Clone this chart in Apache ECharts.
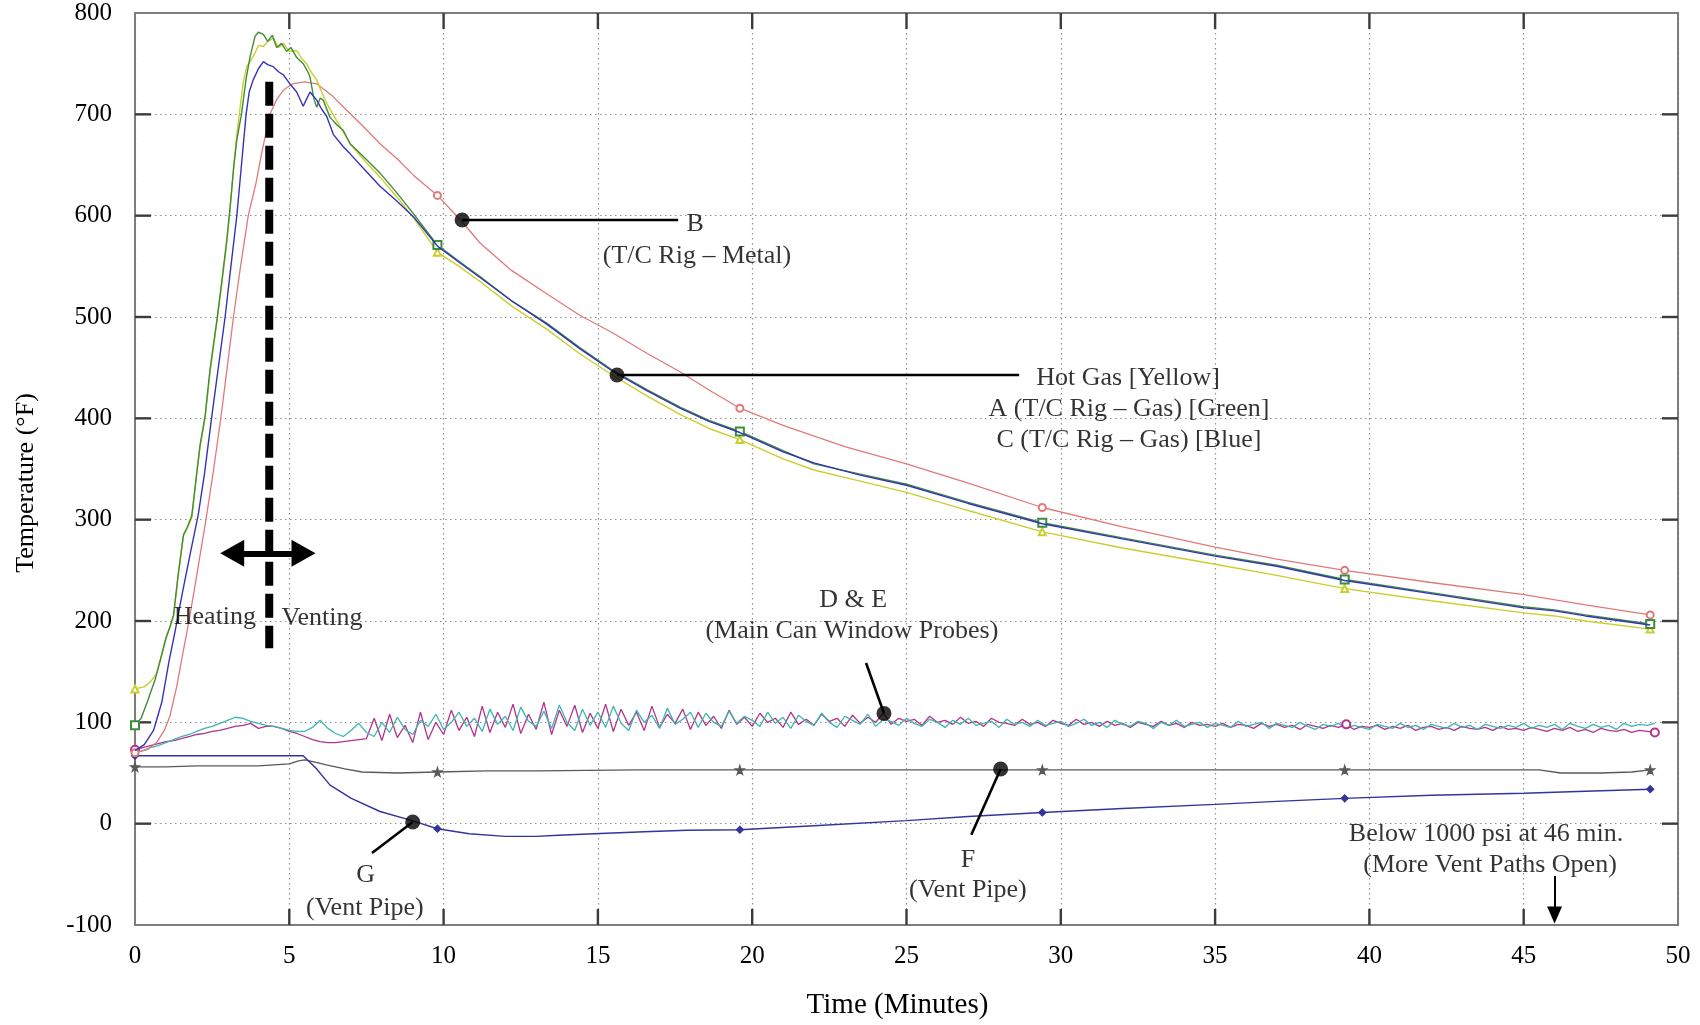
<!DOCTYPE html>
<html>
<head>
<meta charset="utf-8">
<script src="https://cdn.jsdelivr.net/npm/echarts@6/dist/echarts.min.js"></script>
<style>
  html, body { margin: 0; padding: 0; background: #ffffff; }
  #chart { width: 1700px; height: 1025px; }
</style>
</head>
<body>
<div id="chart"></div>
<script>
// Temperature histories during heating and venting (time in minutes, temperature in °F)

const hotGas = [
  [0,133],[0.3,135],[0.5,140],[0.7,148],[0.85,165],[1.0,182],[1.15,195],[1.25,205],[1.4,245],[1.57,284],
  [1.7,292],[1.84,302],[2.0,345],[2.11,372],[2.27,400],[2.43,445],[2.65,495],[2.8,530],[2.97,572],[3.08,605],
  [3.2,650],[3.3,680],[3.4,705],[3.5,730],[3.62,747],[3.83,757],[4.0,768],[4.16,767],[4.3,772],[4.48,775],
  [4.65,766],[4.81,770],[5.0,762],[5.24,763],[5.4,755],[5.56,750],[5.7,742],[5.89,734],[6.05,722],[6.21,711],
  [6.53,694],[6.97,671],[7.45,654],[7.94,638],[8.5,618],[9.02,598],[9.8,564],[10.5,550],[11.18,535],[12.2,511],
  [13.34,488],[14.4,464],[15.5,442],[16.6,422],[17.66,404],[18.6,390],[19.6,379],[21,360],[22,349],[23.5,338],
  [25,327],[27,309],[29.4,288],[32,272],[35,256],[37,245],[39.2,232],[42,220],[45,208],[46,205],[47,200],[49.1,192]
];

const rigA = [
  [0,97],[0.2,104],[0.42,122],[0.65,142],[0.85,165],[1.0,183],[1.15,196],[1.25,206],[1.4,246],[1.57,285],
  [1.7,293],[1.84,304],[2.0,346],[2.11,374],[2.27,402],[2.43,448],[2.65,496],[2.8,532],[2.97,575],[3.08,608],
  [3.2,648],[3.3,675],[3.45,700],[3.6,735],[3.73,757],[3.89,777],[4.0,781],[4.16,779],[4.3,772],[4.45,778],
  [4.59,766],[4.75,770],[4.91,762],[5.05,766],[5.24,756],[5.45,750],[5.6,742],[5.67,737],[5.8,715],[5.89,707],
  [6.0,716],[6.1,714],[6.32,697],[6.53,690],[6.75,684],[6.97,671],[7.45,657],[7.94,642],[8.5,622],[9.02,602],
  [9.8,571],[10.5,555],[11.18,540],[12.2,516],[13.34,494],[14.4,470],[15.5,447],[16.6,428],[17.66,411],[18.6,398],
  [19.6,387],[21,368],[22,355],[23.5,345],[25,335],[27,317],[29.4,297],[32,282],[35,265],[37,255],
  [39.2,241],[42,228],[45,214],[46,211],[47,206],[49.1,197]
];

const rigB = [
  [0,70],[0.4,73],[0.7,80],[0.95,92],[1.13,106],[1.35,135],[1.55,168],[1.75,200],[2.0,245],[2.3,300],
  [2.55,350],[2.78,400],[3.0,453],[3.19,500],[3.42,550],[3.67,600],[3.92,632],[4.1,661],[4.37,700],[4.6,715],
  [4.81,724],[5.1,730],[5.5,732],[5.9,730],[6.4,718],[6.86,704],[7.4,688],[7.94,671],[8.5,656],[9.02,640],
  [9.8,620],[10.6,594],[11.18,573],[12.2,546],[13.34,523],[14.4,502],[15.5,484],[16.6,464],[17.66,446],[18.6,428],
  [19.6,410],[21,393],[23,372],[25,355],[27,336],[29.4,312],[32,293],[35,273],[37,261],[39.2,250],
  [42,238],[45,226],[47,216],[49.1,206]
];

const rigC = [
  [0,72],[0.3,78],[0.6,92],[0.87,120],[1.1,160],[1.3,190],[1.55,230],[1.8,268],[2.05,305],[2.25,345],
  [2.48,400],[2.7,450],[2.92,500],[3.1,548],[3.3,600],[3.45,650],[3.6,700],[3.7,722],[3.83,734],[4.0,745],
  [4.16,752],[4.3,749],[4.48,747],[4.65,742],[4.81,739],[5.02,730],[5.24,722],[5.45,708],[5.56,715],[5.67,722],
  [5.89,714],[6.05,705],[6.21,698],[6.43,680],[6.75,668],[6.97,661],[7.45,645],[7.94,629],[8.5,614],[9.02,599],
  [9.8,570],[10.5,554],[11.18,539],[12.2,516],[13.34,493],[14.4,469],[15.5,446],[16.6,427],[17.66,410],[18.6,397],
  [19.6,386],[21,367],[22,356],[23.5,344],[25,334],[27,316],[29.4,296],[32,281],[35,264],[37,254],
  [39.2,240],[42,227],[45,213],[46,210],[47,205],[49.1,196]
];

// Window probes D and E, logged every 0.25 min
const probeStep = 0.25;
const probeD = [
  73,75,77,79,81,82,84,86,88,89,91,92,94,96,97,99,94,96,96,94,
  91,89,86,83,81,80,80,81,82,83,84,104,82,108,85,97,80,110,83,100,
  88,112,92,105,86,116,90,110,95,118,89,108,93,120,88,112,96,117,90,109,
  94,118,91,113,97,110,92,116,95,108,99,113,93,110,97,106,94,112,98,105,
  96,109,100,104,95,110,98,103,97,108,101,104,96,107,99,105,100,109,98,104,
  101,103,97,106,100,102,98,105,99,101,96,104,100,99,97,103,98,100,96,102,
  99,97,103,98,100,96,101,97,99,95,100,98,96,101,97,99,95,100,97,98,
  96,99,95,98,97,94,99,96,98,95,97,93,98,96,94,97,95,98,93,96,
  95,97,93,96,94,97,92,95,96,93,95,92,96,94,93,95,92,96,93,94,
  92,95,93,91,94,92,95,91,93,90,94,92,91,93,90,92,91,90
];
const probeE = [
  70,72,75,77,80,83,86,88,91,94,96,99,102,105,104,101,99,97,96,94,
  92,91,91,95,102,94,89,86,92,99,90,86,100,90,105,93,88,102,96,108,
  93,100,110,96,104,91,113,98,106,92,115,101,96,111,94,117,100,92,113,97,
  110,95,116,99,92,112,100,107,94,114,98,103,110,95,109,100,96,111,99,106,
  102,96,110,99,105,94,107,101,97,109,100,95,106,102,98,108,96,103,101,97,
  104,99,96,103,100,95,102,98,104,97,99,101,95,103,98,100,96,102,97,99,
  101,96,99,103,97,100,95,102,98,96,101,99,94,100,97,102,96,98,100,95,
  99,97,95,101,96,98,100,94,99,97,95,100,96,93,98,96,99,94,97,95,
  93,98,96,94,99,95,97,93,98,96,94,99,95,97,93,98,96,94,97,95,
  99,94,97,95,98,93,99,96,94,98,95,97,93,99,96,98,97,99
];

const ventF = [
  [0,56],[1,56],[2,57],[3,57],[4,57],[4.5,58],[5.0,59],[5.3,62],[5.5,63],[5.8,61],
  [6.2,58],[6.8,54],[7.36,51],[8.5,50],[9.8,51],[11.4,52],[13,52],[16.3,53],[19.6,53],[25,53],
  [29.4,53],[35,53],[39.2,53],[44,53],[45.5,53],[46.2,50],[47.5,50],[48.5,51],[49.1,53]
];

const ventG = [
  [0,67],[1,67],[2,67],[3,67],[4,67],[5,67],[5.45,67],[5.86,55],[6.32,38],[7.01,25],
  [7.94,12],[8.98,3],[9.8,-5],[10.83,-10],[11.99,-12.5],[13.0,-12.5],[13.73,-11.5],[14.88,-10],[16.5,-8],[17.89,-6.5],
  [19.6,-6],[22,-2],[25,3],[27,7],[29.4,11],[32,15],[35,19],[37,22],[39.2,25],[42,28],
  [45,30],[47,32],[49.1,34]
];

const markerTimes = [0, 9.8, 19.6, 29.4, 39.2, 49.1];
const probeMarkerIdx = [0, 157, 197];

// Axis ranges and tick positions
const timeRange = [0, 50];
const tempRange = [-100, 800];
const timeTicks = [5, 10, 15, 20, 25, 30, 35, 40, 45];
const tempTicks = [0, 100, 200, 300, 400, 500, 600, 700];

// Annotations (data coordinates)
const calloutDots = [[10.6, 595.7], [15.62, 442.8], [24.27, 108.8], [28.05, 54], [9.0, 1.6]];
const leaderLines = [
  [[10.6, 595.7], [17.6, 595.7]],
  [[15.62, 442.8], [28.65, 442.8]],
  [[24.27, 108.8], [23.69, 158.6]],
  [[28.05, 54], [27.1, -11]],
  [[9.0, 1.6], [7.68, -29]]
];
const noteTexts = [
  ['B', 18.15, 591.8],
  ['(T/C Rig \u2013 Metal)', 18.21, 560.2],
  ['Hot Gas [Yellow]', 32.18, 439.8],
  ['A (T/C Rig \u2013 Gas) [Green]', 32.21, 409.2],
  ['C (T/C Rig \u2013 Gas) [Blue]', 32.21, 378.6],
  ['D & E', 23.27, 220.7],
  ['(Main Can Window Probes)', 23.23, 189.5],
  ['F', 26.99, -35.9],
  ['(Vent Pipe)', 26.99, -65.5],
  ['G', 7.47, -50.7],
  ['(Vent Pipe)', 7.45, -83.2],
  ['Heating', 2.59, 204],
  ['Venting', 6.06, 203],
  ['Below 1000 psi at 46 min.', 43.78, -10.2],
  ['(More Vent Paths Open)', 43.91, -40.8]
];
const phaseBoundary = [[4.35, 732.2], [4.35, 173.1]];
const phaseArrow = [[3.15, 266.8], [5.46, 266.8]];
const ventOpenTime = 46;
const ventArrowY = [-51.6, -90.1];

const FONT = 'Liberation Serif, "Times New Roman", serif';
const starPath = 'path://M50,0 L61,35 L98,35 L68,57 L79,91 L50,70 L21,91 L32,57 L2,35 L39,35 Z';

function marked(points, symbol, size) {
  return points.map(function (p) {
    return markerTimes.indexOf(p[0]) >= 0
      ? { value: p, symbol: symbol, symbolSize: size }
      : { value: p, symbol: 'none' };
  });
}
function probeSeries(values, symbol, size) {
  return values.map(function (v, i) {
    const p = [i * probeStep, v];
    return probeMarkerIdx.indexOf(i) >= 0 && symbol
      ? { value: p, symbol: symbol, symbolSize: size }
      : { value: p, symbol: 'none' };
  });
}
function curve(name, data, color, width, z) {
  return {
    name: name, type: 'line', data: data, showSymbol: true, showAllSymbol: true,
    symbol: 'none', lineStyle: { color: color, width: width },
    itemStyle: { color: color, borderColor: color, borderWidth: 1.2 },
    z: z, silent: true, animation: false
  };
}

function frameLine() {
  return { show: true, onZero: false, lineStyle: { color: '#7d7d7d', width: 2 } };
}
const gridLineStyle = { color: '#8f8f8f', width: 1.2, type: [1.5, 3.5] };

const series = [
  curve('D', probeSeries(probeD, 'emptyCircle', 8), '#b2338e', 1.3, 2),
  curve('E', probeSeries(probeE, null, 0), '#3db5b0', 1.3, 2),
  curve('F', marked(ventF, starPath, 9), '#595959', 1.3, 3),
  curve('G', marked(ventG, 'diamond', 7), '#34349c', 1.4, 3),
  curve('B', marked(rigB, 'emptyCircle', 7), '#e07a7a', 1.3, 4),
  curve('Hot Gas', marked(hotGas, 'emptyTriangle', 7), '#c9cf2c', 1.4, 5),
  curve('A', marked(rigA, 'emptyRect', 8), '#3f8d3a', 1.4, 6),
  curve('C', marked(rigC, 'none', 0), '#3434b6', 1.4, 7)
];

// inward tick marks on all four sides of the frame
const TICK_LEN = 16;
series.push({
  type: 'custom', silent: true, clip: false, z: 1,
  data: timeTicks.map(function (v) { return [v, 0]; })
    .concat(tempTicks.map(function (v) { return [v, 1]; })),
  renderItem: function (params, api) {
    const v = api.value(0);
    const segs = [];
    if (api.value(1) === 0) {
      const b = api.coord([v, tempRange[0]]);
      const t = api.coord([v, tempRange[1]]);
      segs.push([b[0], b[1], b[0], b[1] - TICK_LEN], [t[0], t[1], t[0], t[1] + TICK_LEN]);
    } else {
      const l = api.coord([timeRange[0], v]);
      const r = api.coord([timeRange[1], v]);
      segs.push([l[0], l[1], l[0] + TICK_LEN, l[1]], [r[0], r[1], r[0] - TICK_LEN, r[1]]);
    }
    return {
      type: 'group',
      children: segs.map(function (s) {
        return {
          type: 'line',
          shape: { x1: s[0], y1: s[1], x2: s[2], y2: s[3] },
          style: { stroke: '#3c3c3c', lineWidth: 2.4 }
        };
      })
    };
  }
});

// phase boundary and heating/venting arrow
series.push({
  type: 'line', data: phaseBoundary, symbol: 'none', silent: true, z: 20,
  lineStyle: { color: '#000', width: 8, type: [24, 8], cap: 'butt' },
  markLine: {
    silent: true, symbol: ['triangle', 'triangle'], symbolSize: [27, 24],
    label: { show: false },
    lineStyle: { color: '#000', width: 6, type: 'solid' },
    data: [[{ coord: phaseArrow[0] }, { coord: phaseArrow[1] }]]
  }
});
// pressure drop arrow at 46 min
series.push({
  type: 'line', data: [], symbol: 'none', silent: true, z: 20,
  markLine: {
    silent: true, symbol: ['none', 'triangle'], symbolSize: [15, 17],
    label: { show: false },
    lineStyle: { color: '#000', width: 2, type: 'solid' },
    data: [[{ coord: [ventOpenTime, ventArrowY[0]] }, { coord: [ventOpenTime, ventArrowY[1]] }]]
  }
});
leaderLines.forEach(function (seg) {
  series.push({
    type: 'line', data: seg, symbol: 'none', silent: true, z: 21,
    lineStyle: { color: '#000', width: 2.6 }
  });
});
series.push({
  type: 'scatter', data: calloutDots, symbol: 'circle', symbolSize: 15,
  itemStyle: { color: '#000' }, silent: true, z: 22
});
series.push({
  type: 'scatter', silent: true, z: 23, symbolSize: 1,
  itemStyle: { color: 'rgba(0,0,0,0)' },
  data: noteTexts.map(function (n) { return { name: n[0], value: [n[1], n[2]] }; }),
  label: {
    show: true, position: 'inside', formatter: '{b}', color: '#000',
    fontSize: 26, fontFamily: FONT, align: 'center', verticalAlign: 'middle'
  }
});

const chart = echarts.init(document.getElementById('chart'), null, { renderer: 'canvas' });
chart.setOption({
  animation: false,
  backgroundColor: '#ffffff',
  grid: { left: 135, top: 13, right: 22, bottom: 100, outerBoundsMode: 'none' },
  xAxis: [
    {
      type: 'value', min: timeRange[0], max: timeRange[1], interval: 5, position: 'bottom',
      axisLine: frameLine(), axisTick: { show: false },
      axisLabel: { color: '#000', fontSize: 25, fontFamily: FONT, margin: 19 },
      splitLine: { show: true, lineStyle: gridLineStyle },
      name: 'Time (Minutes)', nameLocation: 'middle', nameGap: 66,
      nameTextStyle: { color: '#000', fontSize: 29, fontFamily: FONT, padding: [0, 18, 0, 0] }
    },
    {
      type: 'value', min: timeRange[0], max: timeRange[1], interval: 5, position: 'top',
      axisLine: frameLine(), axisTick: { show: false },
      axisLabel: { show: false }, splitLine: { show: false }
    }
  ],
  yAxis: [
    {
      type: 'value', min: tempRange[0], max: tempRange[1], interval: 100, position: 'left',
      axisLine: frameLine(), axisTick: { show: false },
      axisLabel: { color: '#000', fontSize: 25, fontFamily: FONT, margin: 23 },
      splitLine: { show: true, lineStyle: gridLineStyle },
      name: 'Temperature (\u00B0F)', nameLocation: 'middle', nameGap: 96,
      nameTextStyle: { color: '#000', fontSize: 26, fontFamily: FONT, padding: [0, 28, 0, 0] }
    },
    {
      type: 'value', min: tempRange[0], max: tempRange[1], interval: 100, position: 'right',
      axisLine: frameLine(), axisTick: { show: false },
      axisLabel: { show: false }, splitLine: { show: false }
    }
  ],
  series: series
});
</script>
</body>
</html>
